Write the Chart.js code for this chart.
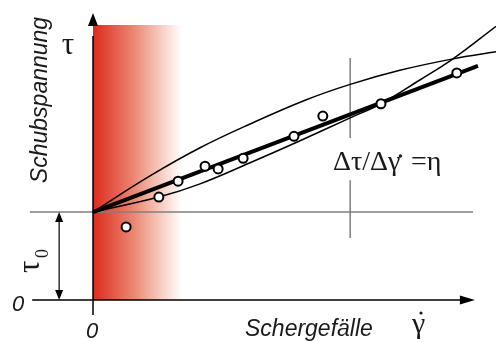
<!DOCTYPE html>
<html>
<head>
<meta charset="utf-8">
<script src="https://cdn.jsdelivr.net/npm/chart.js@4/dist/chart.umd.min.js"></script>
<style>
  body { margin: 0; background: #fff; }
  #wrap { width: 496px; height: 342px; }
</style>
</head>
<body>
<div id="wrap"><canvas id="myChart" width="496" height="342"></canvas></div>
<script>
// Messpunkte (Schergefälle, Schubspannung), Einheit: tau0 = 1
const pointX = [0.86, 1.71, 2.21, 2.91, 3.25, 3.90, 5.22, 5.97, 7.48, 9.45];
const pointY = [0.83, 1.17, 1.35, 1.52, 1.49, 1.61, 1.86, 2.09, 2.23, 2.58];

// Bingham-Gerade (dick)
const binghamX = [0, 10];
const binghamY = [1, 2.66];

// obere Kurve (strukturviskos)
const upperX = [0, 1.48, 2.78, 4.08, 5.51, 6.68, 7.97, 9.35, 10.47];
const upperY = [1, 1.41, 1.73, 2.0, 2.27, 2.45, 2.61, 2.74, 2.82];

// untere Kurve (dilatant)
const lowerX = [0, 1.71, 2.78, 4.08, 5.38, 6.68, 7.48, 8.49, 9.35, 10.47];
const lowerY = [1, 1.17, 1.32, 1.56, 1.81, 2.07, 2.23, 2.5, 2.74, 3.11];

const tau0 = 1;
const redRegionEnd = 2.31; // bis hierhin roter Bereich

const toXY = (xs, ys) => xs.map((v, i) => ({ x: v, y: ys[i] }));

const decor = {
  id: "decor",
  beforeDatasetsDraw(chart) {
    const { ctx, scales: { x, y } } = chart;
    const px = (v) => x.getPixelForValue(v);
    const py = (v) => y.getPixelForValue(v);

    // roter Verlauf
    const x0 = px(0), x1 = px(redRegionEnd);
    const g = ctx.createLinearGradient(x0, 0, x1, 0);
    g.addColorStop(0, "#dc2b1d");
    g.addColorStop(0.45, "#ea8670");
    g.addColorStop(0.8, "#f8d5ca");
    g.addColorStop(1, "#ffffff");
    ctx.save();
    ctx.fillStyle = g;
    ctx.fillRect(x0, py(3.125), x1 - x0, py(0) - py(3.125));

    // graue Hilfslinien
    ctx.strokeStyle = "#808080";
    ctx.lineWidth = 1.5;
    ctx.beginPath();
    ctx.moveTo(px(-1.64), py(tau0));
    ctx.lineTo(px(9.87), py(tau0));
    ctx.moveTo(px(6.68), py(2.75));
    ctx.lineTo(px(6.68), py(1.84));
    ctx.moveTo(px(6.68), py(1.36));
    ctx.lineTo(px(6.68), py(0.705));
    ctx.stroke();

    // Achsen
    ctx.strokeStyle = "#000";
    ctx.fillStyle = "#000";
    ctx.lineWidth = 1.5;
    ctx.beginPath();
    ctx.moveTo(px(-1.58), py(0));
    ctx.lineTo(px(9.6), py(0));
    ctx.moveTo(px(0), py(-0.17));
    ctx.lineTo(px(0), py(3.0));
    ctx.stroke();
    // Pfeilspitzen
    const ax = px(9.92), ay = py(0);
    ctx.beginPath();
    ctx.moveTo(ax, ay);
    ctx.lineTo(ax - 15, ay - 4.5);
    ctx.lineTo(ax - 15, ay + 4.5);
    ctx.closePath();
    ctx.fill();
    const bx = px(0), by = py(3.26);
    ctx.beginPath();
    ctx.moveTo(bx, by);
    ctx.lineTo(bx - 5, by + 13);
    ctx.lineTo(bx + 5, by + 13);
    ctx.closePath();
    ctx.fill();

    // tau0 Maßpfeil
    const tx = px(-0.88), t0 = py(0), t1 = py(tau0);
    ctx.lineWidth = 1.2;
    ctx.beginPath();
    ctx.moveTo(tx, t1 + 8);
    ctx.lineTo(tx, t0 - 8);
    ctx.stroke();
    ctx.beginPath();
    ctx.moveTo(tx, t1);
    ctx.lineTo(tx - 4, t1 + 10);
    ctx.lineTo(tx + 4, t1 + 10);
    ctx.closePath();
    ctx.moveTo(tx, t0);
    ctx.lineTo(tx - 4, t0 - 10);
    ctx.lineTo(tx + 4, t0 - 10);
    ctx.closePath();
    ctx.fill();
    ctx.restore();
  },
  afterDatasetsDraw(chart) {
    const { ctx } = chart;
    ctx.save();
    ctx.fillStyle = "#1a1a1a";
    const sans = "italic 22px 'Liberation Sans', Arial, sans-serif";
    const serif = "'Liberation Serif', 'Times New Roman', serif";

    // Schubspannung (gedreht)
    ctx.save();
    ctx.translate(47, 100);
    ctx.rotate(-Math.PI / 2);
    ctx.font = "italic 23px 'Liberation Sans', Arial, sans-serif";
    ctx.textAlign = "center";
    ctx.textBaseline = "alphabetic";
    ctx.fillText("Schubspannung", 0, 0);
    ctx.restore();

    // tau oben
    ctx.font = "31px " + serif;
    ctx.textAlign = "center";
    ctx.fillText("τ", 68, 54);

    // tau0 (gedreht)
    ctx.save();
    ctx.translate(39, 273);
    ctx.rotate(-Math.PI / 2);
    ctx.textAlign = "left";
    ctx.font = "31px " + serif;
    ctx.fillText("τ", 0, 0);
    ctx.font = "18px " + serif;
    ctx.fillText("0", 15, 9);
    ctx.restore();

    // Nullen
    ctx.font = sans;
    ctx.textAlign = "center";
    ctx.fillText("0", 18, 311);
    ctx.fillText("0", 92, 338);

    // Schergefälle
    ctx.font = "italic 23px 'Liberation Sans', Arial, sans-serif";
    ctx.textAlign = "left";
    ctx.fillText("Schergefälle", 245, 336);

    // gamma-Punkt unten
    ctx.font = "30px " + serif;
    ctx.fillText("γ", 412, 333);
    ctx.beginPath();
    ctx.arc(421, 313, 1.6, 0, Math.PI * 2);
    ctx.fill();

    // Delta tau / Delta gamma = eta
    ctx.font = "28px " + serif;
    const s = "Δτ/Δγ";
    ctx.fillText(s, 333, 170);
    const w = ctx.measureText(s).width;
    ctx.beginPath();
    ctx.arc(333 + w, 156, 1.7, 0, Math.PI * 2);
    ctx.fill();
    ctx.fillText("=η", Math.max(411, 333 + w + 8), 170);
    ctx.restore();
  },
};

const ctx = document.getElementById("myChart");

new Chart(ctx, {
  type: "scatter",
  data: {
    datasets: [
      {
        label: "Messpunkte",
        data: toXY(pointX, pointY),
        pointRadius: 4.5,
        pointBorderWidth: 2,
        pointBackgroundColor: "#fff",
        pointBorderColor: "#000",
        showLine: false,
        order: 0,
      },
      {
        label: "Bingham",
        data: toXY(binghamX, binghamY),
        showLine: true,
        borderColor: "#000",
        borderWidth: 4,
        pointRadius: 0,
        order: 1,
      },
      {
        label: "oben",
        data: toXY(upperX, upperY),
        showLine: true,
        borderColor: "#000",
        borderWidth: 1.5,
        pointRadius: 0,
        tension: 0.4,
        order: 2,
      },
      {
        label: "unten",
        data: toXY(lowerX, lowerY),
        showLine: true,
        borderColor: "#000",
        borderWidth: 1.5,
        pointRadius: 0,
        tension: 0.4,
        order: 3,
      },
    ],
  },
  options: {
    responsive: false,
    animation: false,
    layout: { padding: 0, autoPadding: false },
    plugins: {
      legend: { display: false },
      tooltip: { enabled: false },
    },
    scales: {
      x: { type: "linear", display: false, min: -2.416, max: 10.468 },
      y: { type: "linear", display: false, min: -0.477, max: 3.409 },
    },
  },
  plugins: [decor],
});
</script>
</body>
</html>
